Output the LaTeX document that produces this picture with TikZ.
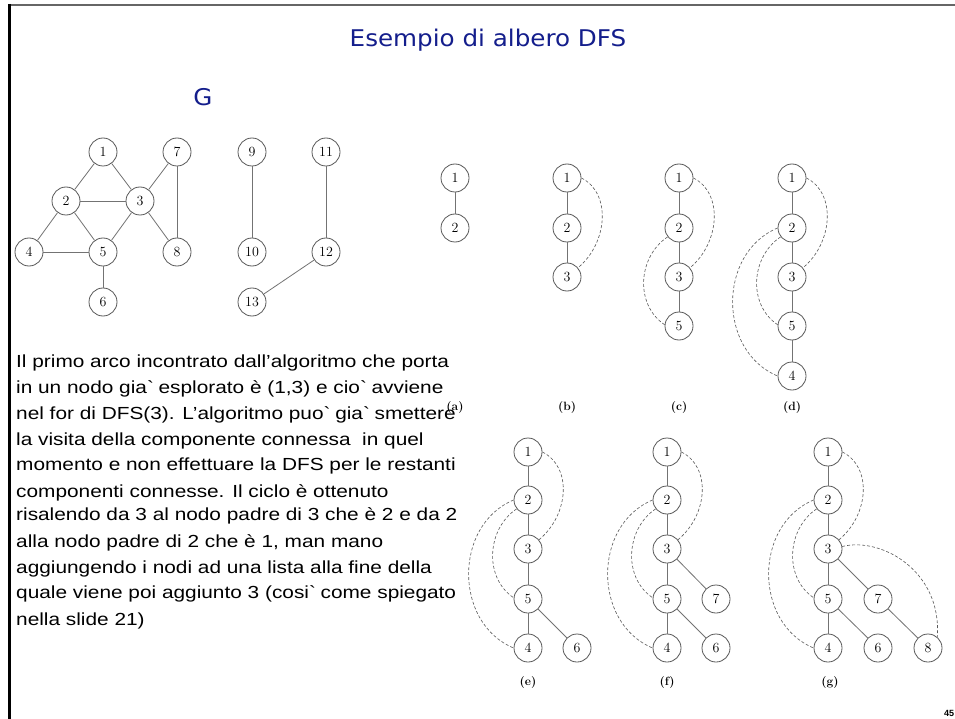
\documentclass[tikz,border=0pt]{standalone}
\usepackage{fontspec}
\newfontfamily\arial[FakeStretch=1.19]{Liberation Sans}
\newfontfamily\arialpg{Liberation Sans}
\newfontfamily\titlefont[FakeStretch=1.07]{DejaVu Sans}
\definecolor{titleblue}{RGB}{20,30,140}
\begin{document}
\begin{tikzpicture}[x=1pt,y=1pt,
  vtx/.style={circle, draw=black!65, line width=0.8pt, minimum size=28pt, inner sep=0pt, font=\fontsize{14}{14}\selectfont},
  tedge/.style={draw=black!55, line width=0.8pt},
  back/.style={draw=black!65, dash pattern=on 3pt off 2pt, line width=0.6pt},
  lbl/.style={font=\bfseries\fontsize{12}{12}\selectfont, inner sep=0pt},
  txt/.style={anchor=base west, inner sep=0pt, font=\arial\fontsize{17.5}{20}\selectfont},
  ttl/.style={text=titleblue, inner sep=0pt, font=\titlefont\fontsize{23}{23}\selectfont}]
\useasboundingbox (0,0) rectangle (955,-719);
\fill[white] (0,0) rectangle (955,-719);
% frame
\draw[black!60, line width=2.5pt] (9,-5) -- (955,-5);
\draw[black, line width=3pt] (9,-4) -- (9,-719);
% titles
\node[ttl] (title) at (488,-40) {Esempio di albero DFS};
\node[ttl] (gname) at (203,-97) {G};
% graph G
\node[vtx] (g1) at (103,-152) {1};
\node[vtx] (g7) at (177,-152) {7};
\node[vtx] (g9) at (252,-152) {9};
\node[vtx] (g11) at (326,-152) {11};
\node[vtx] (g2) at (66,-201) {2};
\node[vtx] (g3) at (140,-201) {3};
\node[vtx] (g4) at (29,-252) {4};
\node[vtx] (g5) at (103,-252) {5};
\node[vtx] (g8) at (177,-252) {8};
\node[vtx] (g10) at (252,-252) {10};
\node[vtx] (g12) at (326,-252) {12};
\node[vtx] (g6) at (103,-302) {6};
\node[vtx] (g13) at (252,-302) {13};
\foreach \a/\b in {g1/g2,g1/g3,g2/g3,g2/g4,g2/g5,g3/g5,g3/g7,g3/g8,g7/g8,g4/g5,g5/g6,g9/g10,g11/g12,g12/g13}
  \draw[tedge] (\a) -- (\b);
% tree (a)
\node[vtx] (a1) at (455,-178) {1};
\node[vtx] (a2) at (455,-228) {2};
\draw[tedge] (a1) -- (a2);
% tree (b)
\node[vtx] (b1) at (567,-178) {1};
\node[vtx] (b2) at (567,-228) {2};
\node[vtx] (b3) at (567,-277) {3};
\draw[tedge] (b1) -- (b2) -- (b3);
\draw[back] (b1.east) .. controls +(30,-15) and +(30,25) .. (b3.40);
% tree (c)
\node[vtx] (c1) at (679,-178) {1};
\node[vtx] (c2) at (679,-228) {2};
\node[vtx] (c3) at (679,-277) {3};
\node[vtx] (c5) at (679,-326) {5};
\draw[tedge] (c1) -- (c2) -- (c3) -- (c5);
\draw[back] (c1.east) .. controls +(30,-15) and +(30,25) .. (c3.40);
\draw[back] (c2.218) .. controls +(-30,-20) and +(-30,20) .. (c5.175);
% tree (d)
\node[vtx] (d1) at (792,-178) {1};
\node[vtx] (d2) at (792,-228) {2};
\node[vtx] (d3) at (792,-277) {3};
\node[vtx] (d5) at (792,-326) {5};
\node[vtx] (d4) at (792,-376) {4};
\draw[tedge] (d1) -- (d2) -- (d3) -- (d5) -- (d4);
\draw[back] (d1.east) .. controls +(30,-15) and +(30,25) .. (d3.40);
\draw[back] (d2.218) .. controls +(-30,-20) and +(-30,20) .. (d5.175);
\draw[back] (d2.west) .. controls +(-60,-25) and +(-60,25) .. (d4.west);
% tree (e)
\node[vtx] (e1) at (528,-452) {1};
\node[vtx] (e2) at (528,-500) {2};
\node[vtx] (e3) at (528,-549) {3};
\node[vtx] (e5) at (528,-599) {5};
\node[vtx] (e4) at (528,-648) {4};
\node[vtx] (e6) at (577,-648) {6};
\draw[tedge] (e1) -- (e2) -- (e3) -- (e5) -- (e4);
\draw[tedge] (e5) -- (e6);
\draw[back] (e1.east) .. controls +(30,-15) and +(30,25) .. (e3.40);
\draw[back] (e2.218) .. controls +(-30,-20) and +(-30,20) .. (e5.175);
\draw[back] (e2.west) .. controls +(-60,-25) and +(-60,25) .. (e4.west);
% tree (f)
\node[vtx] (f1) at (667,-452) {1};
\node[vtx] (f2) at (667,-500) {2};
\node[vtx] (f3) at (667,-549) {3};
\node[vtx] (f5) at (667,-599) {5};
\node[vtx] (f4) at (667,-648) {4};
\node[vtx] (f7) at (716,-599) {7};
\node[vtx] (f6) at (716,-648) {6};
\draw[tedge] (f1) -- (f2) -- (f3) -- (f5) -- (f4);
\draw[tedge] (f5) -- (f6);
\draw[tedge] (f3) -- (f7);
\draw[back] (f1.east) .. controls +(30,-15) and +(30,25) .. (f3.40);
\draw[back] (f2.218) .. controls +(-30,-20) and +(-30,20) .. (f5.175);
\draw[back] (f2.west) .. controls +(-60,-25) and +(-60,25) .. (f4.west);
% tree (g)
\node[vtx] (h1) at (828,-452) {1};
\node[vtx] (h2) at (828,-500) {2};
\node[vtx] (h3) at (828,-549) {3};
\node[vtx] (h5) at (828,-599) {5};
\node[vtx] (h4) at (828,-648) {4};
\node[vtx] (h7) at (878,-599) {7};
\node[vtx] (h6) at (878,-648) {6};
\node[vtx] (h8) at (928,-648) {8};
\draw[tedge] (h1) -- (h2) -- (h3) -- (h5) -- (h4);
\draw[tedge] (h5) -- (h6);
\draw[tedge] (h3) -- (h7) -- (h8);
\draw[back] (h1.east) .. controls +(30,-15) and +(30,25) .. (h3.40);
\draw[back] (h2.218) .. controls +(-30,-20) and +(-30,20) .. (h5.175);
\draw[back] (h2.west) .. controls +(-60,-25) and +(-60,25) .. (h4.west);
\draw[back] (h3.10) .. controls +(40,10) and +(5,65) .. (h8.50);
% labels
\node[lbl] (la) at (455,-408) {(a)};
\node[lbl] (lb) at (567,-408) {(b)};
\node[lbl] (lc) at (679,-408) {(c)};
\node[lbl] (ld) at (792,-408) {(d)};
\node[lbl] (le) at (528,-682) {(e)};
\node[lbl] (lf) at (667,-682) {(f)};
\node[lbl] (lg) at (830,-682) {(g)};
% text
\node[txt] (t1) at (16,-367) {Il primo arco incontrato dall’algoritmo che porta};
\node[txt] (t2) at (16,-393) {in un nodo gia\textasciigrave{} esplorato è (1,3) e cio\textasciigrave{} avviene};
\node[txt] (t3) at (16,-419) {nel for di DFS(3). L’algoritmo puo\textasciigrave{} gia\textasciigrave{} smettere};
\node[txt] (t4) at (16,-445) {la visita della componente connessa\ \ in quel};
\node[txt] (t5) at (16,-470) {momento e non effettuare la DFS per le restanti};
\node[txt] (t6) at (16,-497) {componenti connesse. Il ciclo è ottenuto};
\node[txt] (t7) at (16,-520) {risalendo da 3 al nodo padre di 3 che è 2 e da 2};
\node[txt] (t8) at (16,-547) {alla nodo padre di 2 che è 1, man mano};
\node[txt] (t9) at (16,-573) {aggiungendo i nodi ad una lista alla fine della};
\node[txt] (t10) at (16,-598) {quale viene poi aggiunto 3 (cosi\textasciigrave{} come spiegato};
\node[txt] (t11) at (16,-625) {nella slide 21)};
% page number
\node[anchor=base west, inner sep=0pt, font=\arialpg\bfseries\fontsize{9}{9}\selectfont] (pg) at (944,-716) {45};
\end{tikzpicture}
\end{document}
